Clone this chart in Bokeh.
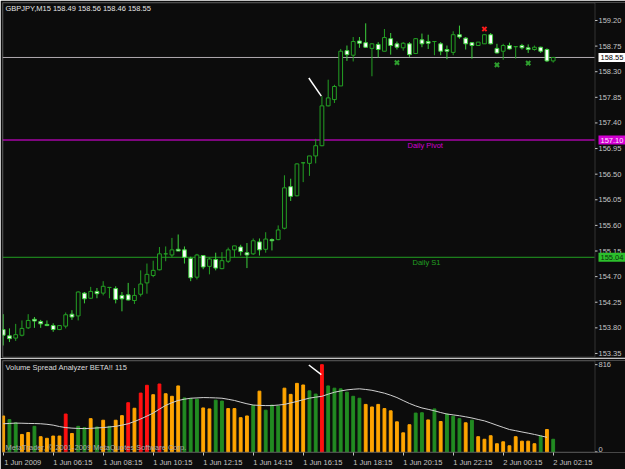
from bokeh.plotting import figure
from bokeh.models import (Range1d, LinearAxis, FixedTicker, Label, BoxAnnotation,
                          ColumnDataSource)
from bokeh.core.properties import value
from bokeh.layouts import column
from bokeh.embed import file_html
from bokeh.resources import INLINE

# ---------------- data (GBPJPY M15, 1-2 Jun 2009) ----------------
bars = list(range(89))

opens = [153.77, 153.66, 153.62, 153.67, 153.80, 153.95, 153.91, 153.86, 153.84, 153.77,
         153.83, 154.04, 154.01, 154.41, 154.32, 154.44, 154.41, 154.51, 154.49, 154.37,
         154.38, 154.28, 154.39, 154.59, 154.72, 154.82, 155.10, 155.08, 155.18, 155.17,
         155.02, 154.69, 155.07, 154.88, 155.00, 154.84, 154.97, 155.17, 155.22, 155.12,
         155.10, 155.31, 155.18, 155.35, 155.35, 155.55, 156.28, 156.12, 156.70, 156.69,
         156.82, 157.00, 157.70, 157.81, 158.05, 158.67, 158.59, 158.84, 158.81, 158.71,
         158.78, 158.66, 158.88, 158.79, 158.72, 158.79, 158.62, 158.86, 158.83, 158.83,
         158.79, 158.69, 158.64, 158.95, 158.89, 158.81, 158.76, 158.79, 158.95, 158.71,
         158.66, 158.76, 158.74, 158.76, 158.72, 158.69, 158.73, 158.69, 158.49]

highs = [154.04, 153.79, 153.87, 153.93, 154.04, 153.99, 153.94, 153.93, 153.88, 153.85,
         154.07, 154.11, 154.44, 154.43, 154.52, 154.50, 154.62, 154.51, 154.53, 154.43,
         154.59, 154.50, 154.81, 154.93, 154.98, 155.22, 155.23, 155.38, 155.44, 155.23,
         155.05, 155.10, 155.08, 155.04, 155.12, 155.13, 155.21, 155.24, 155.26, 155.29,
         155.37, 155.37, 155.48, 155.37, 155.60, 156.48, 156.42, 156.69, 156.70, 156.82,
         157.12, 157.87, 158.16, 158.07, 158.70, 158.76, 158.91, 158.91, 159.15, 158.80,
         158.82, 159.05, 158.98, 158.83, 158.82, 158.82, 158.89, 158.97, 158.95, 158.83,
         158.82, 158.76, 159.01, 159.11, 158.91, 158.82, 158.82, 158.95, 158.98, 158.79,
         158.79, 158.81, 158.74, 158.79, 158.78, 158.76, 158.74, 158.71, 158.56]

lows = [153.49, 153.55, 153.57, 153.65, 153.78, 153.80, 153.80, 153.83, 153.73, 153.76,
        153.79, 153.94, 153.93, 154.23, 154.31, 154.32, 154.37, 154.32, 154.23, 154.09,
        154.28, 154.22, 154.35, 154.40, 154.69, 154.81, 154.97, 155.04, 155.15, 154.93,
        154.62, 154.65, 154.83, 154.74, 154.81, 154.83, 154.94, 155.04, 155.07, 154.85,
        155.08, 155.07, 155.12, 155.16, 155.34, 155.53, 156.03, 156.11, 156.36, 156.47,
        156.69, 156.99, 157.69, 157.75, 158.05, 158.49, 158.48, 158.72, 158.72, 158.22,
        158.55, 158.66, 158.60, 158.69, 158.67, 158.56, 158.61, 158.73, 158.70, 158.59,
        158.59, 158.52, 158.59, 158.88, 158.69, 158.53, 158.76, 158.79, 158.78, 158.62,
        158.51, 158.69, 158.53, 158.69, 158.63, 158.67, 158.63, 158.47, 158.46]

closes = [153.67, 153.61, 153.68, 153.79, 153.93, 153.92, 153.87, 153.84, 153.77, 153.84,
          154.03, 153.99, 154.43, 154.31, 154.44, 154.40, 154.53, 154.51, 154.30, 154.31,
          154.29, 154.37, 154.57, 154.74, 154.81, 155.10, 155.10, 155.17, 155.15, 155.04,
          154.68, 155.08, 154.87, 155.01, 154.85, 154.98, 155.17, 155.24, 155.14, 155.08,
          155.33, 155.17, 155.36, 155.33, 155.52, 156.26, 156.11, 156.68, 156.70, 156.82,
          157.00, 157.70, 157.84, 158.04, 158.66, 158.60, 158.83, 158.80, 158.73, 158.79,
          158.69, 158.90, 158.76, 158.73, 158.80, 158.60, 158.88, 158.79, 158.80, 158.83,
          158.66, 158.66, 158.95, 158.91, 158.79, 158.76, 158.82, 158.95, 158.79, 158.63,
          158.76, 158.70, 158.74, 158.72, 158.69, 158.73, 158.66, 158.49, 158.55]

volumes = [336, 302, 272, 163, 181, 239, 142, 127, 148, 148,
           354, 172, 239, 227, 311, 233, 296, 239, 296, 339,
           460, 408, 550, 623, 535, 635, 544, 520, 617, 505,
           499, 493, 411, 402, 484, 475, 405, 405, 320, 336,
           435, 568, 390, 438, 429, 596, 538, 641, 626, 571,
           541, 816, 617, 596, 590, 559, 520, 502, 444, 420,
           444, 405, 384, 281, 178, 254, 363, 366, 299, 402,
           284, 354, 333, 311, 272, 296, 142, 118, 151, 76,
           94, 57, 142, 100, 100, 76, 148, 209, 118]

volume_class = ["o", "g", "g", "o", "o", "g", "o", "o", "o", "o",
                "r", "o", "g", "g", "o", "g", "o", "g", "o", "o",
                "r", "o", "r", "r", "o", "r", "o", "o", "o", "g",
                "g", "g", "o", "o", "g", "g", "o", "o", "o", "o",
                "g", "o", "g", "g", "g", "o", "o", "o", "o", "g",
                "g", "r", "g", "g", "g", "g", "g", "g", "o", "o",
                "o", "o", "o", "o", "o", "o", "g", "g", "o", "g",
                "o", "g", "g", "g", "o", "g", "o", "o", "o", "o",
                "o", "o", "o", "o", "o", "o", "g", "o", "g"]

volume_ma = [263, 266, 269, 268, 266, 265, 263, 258, 250, 237,
             227, 222, 219, 218, 220, 224, 227, 233, 239, 250,
             263, 284, 308, 335, 363, 400, 435, 460, 481, 493,
             502, 505, 508, 507, 505, 502, 492, 481, 465, 450,
             438, 435, 433, 433, 438, 444, 458, 472, 488, 503,
             512, 520, 540, 558, 570, 580, 586, 590, 584, 576,
             563, 549, 530, 508, 480, 453, 430, 411, 398, 384,
             368, 354, 346, 338, 328, 317, 303, 290, 270, 249,
             229, 209, 198, 186, 175, 163, 150, 136]

price_ticks = [153.35, 153.80, 154.25, 154.70, 155.15, 155.60, 156.05,
               156.50, 156.95, 157.40, 157.85, 158.30, 158.75, 159.20]
volume_ticks = [0, 816]

time_label_bars = [0, 8, 16, 24, 32, 40, 48, 56, 64, 72, 80, 88]
time_labels = ["1 Jun 2009", "1 Jun 06:15", "1 Jun 08:15", "1 Jun 10:15",
               "1 Jun 12:15", "1 Jun 14:15", "1 Jun 16:15", "1 Jun 18:15",
               "1 Jun 20:15", "1 Jun 22:15", "2 Jun 00:15", "2 Jun 02:15"]

last_price = 158.55
daily_pivot = 157.10
daily_s1 = 155.04

buy_signal_bars = [63, 79, 84]
buy_signal_prices = [158.46, 158.42, 158.45]
sell_signal_bars = [77]
sell_signal_prices = [159.05]

note_bars = [48.9, 50.9]
note_prices = [158.19, 157.87]
note_volumes = [813, 723]

# ---------------- style ----------------
BG = "#0c0c0c"
FRAME = "#8a8a8a"
AXIS_TXT = "#c4c4c4"
FONT = "Liberation Sans"
FS = "7.5px"
BULL_LINE = "#24a024"
BEAR_LINE = "#3ccf3c"
BEAR_FILL = "#ffffff"
MAGENTA = "#d200d2"
MAGENTA_LINE = "#f000f0"
S1_GREEN = "#22a022"
LAST_GRAY = "#b0aab0"
VOL_COLORS = {"o": "#ffa500", "g": "#228b22", "r": "#ff1010"}

BAR_PX = 6.25
X0 = -0.112                       # bar coordinate at canvas x = 2
X_END = X0 + 592 / BAR_PX         # right edge of the chart area (canvas x = 594)
X_FULL = X0 + 623 / BAR_PX        # right edge of the canvas (price scale inside)
P_RANGE = (153.279, 159.516)
P_PX = 56.92
V_RANGE = (-6.0, 855.0)
V_PER_PX = 816 / 90.0
LABEL_SHIFT = 3.125


def bx(px):
    return X0 + (px - 2) / BAR_PX


def py(pxy):
    return P_RANGE[1] - (pxy - 2) / P_PX


def vy(pxy):
    return V_RANGE[1] - (pxy - 360) * V_PER_PX


HAS_PAD = "padding" in Label.properties()


def label(fig, x, y, text, color, bg=None, size=FS, baseline="middle"):
    kw = dict(x=x, y=y, text=text, text_color=color, text_font=FONT,
              text_font_size=size, text_align="left", text_baseline=baseline)
    if bg is not None:
        kw["background_fill_color"] = bg
        if HAS_PAD:
            kw["padding"] = 2
    fig.add_layout(Label(**kw))


base = dict(output_backend="svg", toolbar_location=None,
            x_axis_location=None, y_axis_location=None,
            background_fill_color=BG, border_fill_color=BG,
            min_border_left=2, min_border_right=0, outline_line_color=None)

# ---------------- main price chart (price scale drawn inside the frame) ----------------
p = figure(width=625, height=358, x_range=Range1d(X0, X_FULL), y_range=Range1d(*P_RANGE),
           min_border_top=2, min_border_bottom=1, **base)
p.xgrid.grid_line_color = None
p.ygrid.grid_line_color = None

# horizontal levels (current price, daily pivot, daily S1)
levels = [last_price, daily_pivot, daily_s1]
level_colors = [LAST_GRAY, MAGENTA_LINE, S1_GREEN]
p.segment(x0=[X0] * 3, x1=[X_END] * 3, y0=levels, y1=levels,
          line_color=level_colors, line_width=1)

kind = ["bull" if c > o else ("bear" if c < o else "doji") for o, c in zip(opens, closes)]
src = ColumnDataSource(dict(
    x=bars, high=highs, low=lows,
    top=[max(o, c) for o, c in zip(opens, closes)],
    bottom=[min(o, c) for o, c in zip(opens, closes)],
    fill=[BEAR_FILL if k == "bear" else BG for k in kind],
    edge=[BEAR_LINE if k == "bear" else BULL_LINE for k in kind]))
p.segment(x0="x", y0="high", x1="x", y1="low", source=src, line_color="edge", line_width=1)
p.vbar(x="x", width=0.6, top="top", bottom="bottom", source=src,
       fill_color="fill", line_color="edge", line_width=1)

p.scatter(buy_signal_bars, buy_signal_prices, marker="x", size=6, line_width=2,
          line_color="#2e9e2e")
p.scatter(sell_signal_bars, sell_signal_prices, marker="x", size=6, line_width=2,
          line_color="#ff1a1a")
p.line(note_bars, note_prices, line_color="#ffffff", line_width=1.5)

# chart border
p.add_layout(BoxAnnotation(left=bx(2.5), right=bx(594.5), top=py(2.5), bottom=py(356.5),
                           fill_alpha=0, line_color=FRAME, line_width=1))

# price scale: tick marks and labels
n = len(price_ticks)
p.segment(x0=[bx(594.5)] * n, x1=[bx(597)] * n, y0=price_ticks, y1=price_ticks,
          line_color=AXIS_TXT, line_width=1)
p.text(x=[bx(598)] * n, y=price_ticks, text=["%.2f" % v for v in price_ticks],
       text_color=AXIS_TXT, text_font=value(FONT), text_font_size=FS,
       text_align="left", text_baseline="middle")

label(p, bx(5), py(8), "GBPJPY,M15  158.49 158.56 158.46 158.55", "#e4e4e4")
label(p, bx(407), py(145), "Daily Pivot", MAGENTA)
label(p, bx(412), py(262), "Daily S1", S1_GREEN)
label(p, bx(598), last_price, "%.2f" % last_price, "#000000", bg="#ffffff")
label(p, bx(598), daily_pivot, "%.2f" % daily_pivot, "#ffe6ff", bg=MAGENTA)
label(p, bx(598), daily_s1, "%.2f" % daily_s1, "#0a300a", bg="#2cc02c")

# ---------------- volume spread panel ----------------
q = figure(width=625, height=111, x_range=Range1d(X0, X_FULL), y_range=Range1d(*V_RANGE),
           min_border_top=2, min_border_bottom=14, **base)
q.xgrid.grid_line_color = None
q.ygrid.grid_line_color = None

q.vbar(x=bars, top=volumes, bottom=0, width=0.45,
       color=[VOL_COLORS[c] for c in volume_class])
q.line(bars[:len(volume_ma)], volume_ma, line_color="#d0d0d0", line_width=1)
q.line(note_bars, note_volumes, line_color="#ffffff", line_width=1.5)

q.add_layout(BoxAnnotation(left=bx(2.5), right=bx(594.5), top=vy(360.5), bottom=vy(454.5),
                           fill_alpha=0, line_color=FRAME, line_width=1))

# volume scale (right side)
m = len(volume_ticks)
q.segment(x0=[bx(594.5)] * m, x1=[bx(597)] * m, y0=volume_ticks, y1=volume_ticks,
          line_color=AXIS_TXT, line_width=1)
q.text(x=[bx(598)] * m, y=volume_ticks, text=[str(v) for v in volume_ticks],
       text_color=AXIS_TXT, text_font=value(FONT), text_font_size=FS,
       text_align="left", text_baseline=["bottom", "middle"])

# time axis: tick marks at the bars, labels starting at each tick
label_pos = [b + LABEL_SHIFT for b in time_label_bars]
tax = LinearAxis(ticker=FixedTicker(ticks=label_pos, minor_ticks=time_label_bars),
                 major_label_overrides={pos: t for pos, t in zip(label_pos, time_labels)},
                 axis_line_color=None, major_tick_out=0, major_tick_in=0,
                 major_tick_line_color=None,
                 minor_tick_out=3, minor_tick_in=0, minor_tick_line_color=AXIS_TXT,
                 major_label_standoff=2, major_label_text_color=AXIS_TXT,
                 major_label_text_font=FONT, major_label_text_font_size=FS)
q.add_layout(tax, "below")

label(q, bx(5), vy(367), "Volume Spread Analyzer BETA!! 115", "#dcdcdc")
label(q, bx(5), vy(450), "MetaTrader, \u00a9 2001-2009 MetaQuotes Software Corp.", "#a8a8a8")

layout = column(p, q)
open("out.html", "w").write(file_html(layout, INLINE, title="GBPJPY,M15"))
